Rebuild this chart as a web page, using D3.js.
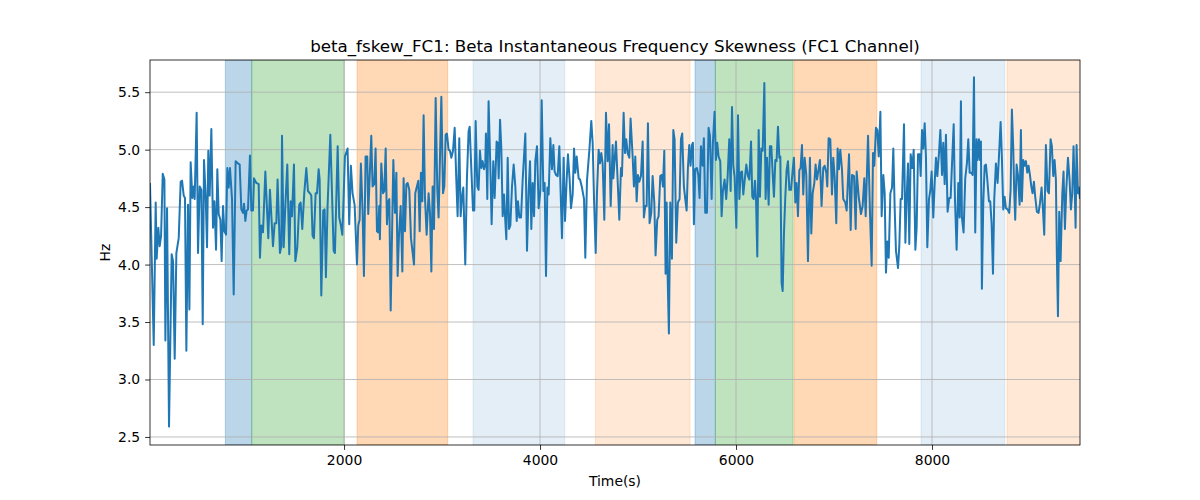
<!DOCTYPE html>
<html>
<head>
<meta charset="utf-8">
<script src="https://cdn.jsdelivr.net/npm/d3@7"></script>
<style>
  html, body { margin: 0; padding: 0; background: #fff; }
  svg { display: block; }
  text { font-family: "DejaVu Sans", sans-serif; fill: #000; }
</style>
</head>
<body>
<svg id="chart" width="1200" height="500"></svg>
<script>
// ---------------- DATA ----------------
const chartTitle = "beta_fskew_FC1: Beta Instantaneous Frequency Skewness (FC1 Channel)";
const xLabel = "Time(s)";
const yLabel = "Hz";
const xTicks = [2000, 4000, 6000, 8000];
const yTicks = [2.5, 3.0, 3.5, 4.0, 4.5, 5.0, 5.5];
const xDomain = [20, 9510];
const yDomain = [2.43, 5.78];

// shaded intervals (time start, time end, kind)
const spanStarts = [789, 1058, 2133, 3316, 4564, 5582, 5789, 6592, 7888, 8765];
const spanEnds   = [1058, 2003, 3058, 4252, 5531, 5789, 6582, 7436, 8742, 9600];
const spanKinds  = ["blue", "green", "orange", "lightblue", "lightorange", "blue", "green", "orange", "lightblue", "lightorange"];

const times = [
20,58,78,88,105,119,133,150,167,177,194,214,241,255,272,289,313,333,347,364,377,391,408,422,435,452,466,476,496,510,527,544,558,571,588,602,615,629,646,663,677,694,707,721,738,751,765,779,796,809,823,836,857,874,894,918,935,952,969,979,993,1006,1020,1040,1054,1071,1081,1105,1129,1142,1156,1173,1197,
1227,1244,1275,1292,1309,1322,1346,1360,1367,1384,1401,1421,1441,1455,1469,1489,1503,1523,1543,1557,1574,1594,1615,1632,1652,1666,1679,1693,1710,1724,1741,1751,1768,1788,1802,1815,1832,1860,1894,1907,1935,1951,1968,1982,1992,2009,2036,2053,2070,2087,2108,2132,2145,2159,2172,2189,2203,2220,2237,2247,2278,2291,2308,2322,2336,2349,2359,2366,2380,
2398,2411,2425,2438,2452,2462,2476,2503,2520,2534,2547,2561,2578,2595,2608,2622,2636,2649,2666,2683,2714,2727,2741,2758,2772,2785,2799,2812,2826,2843,2863,2877,2891,2904,2918,2935,2952,2965,2993,3010,3023,3037,3050,3067,3081,3095,3112,3129,3146,3159,3176,3190,3203,3217,3237,3254,3271,3282,3299,3316,3329,3343,3360,3373,3387,3401,3414,3428,3441,3448,3462,3475,3492,3506,3523,3537,3557,
3568,3578,3592,3605,3619,3633,3643,3656,3670,3684,3697,3714,3731,3748,3762,3775,3789,3806,3823,3850,3867,3884,3898,3911,3925,3939,3952,3969,3986,4003,4017,4034,4047,4061,4075,4088,4105,4122,4136,4149,4163,4180,4197,4211,4224,4241,4255,4272,4285,4302,4316,4333,4347,4360,4374,4394,4408,4428,4449,4462,4479,4503,4523,4537,4551,4568,4581,4598,4612,4625,4639,4656,4673,4690,4704,4721,4741,
4748,4775,4809,4826,4836,4853,4867,4880,4894,4911,4924,4945,4958,4972,4986,4999,5013,5030,5047,5060,5074,5088,5101,5118,5135,5149,5166,5179,5196,5210,5227,5241,5254,5268,5281,5292,5302,5315,5329,5346,5360,5373,5390,5407,5424,5438,5451,5468,5482,5496,5509,5523,5536,5550,5560,5570,5584,5601,5615,5628,5642,5659,5672,5686,5703,5720,5734,5751,5764,5781,5795,5808,5822,5839,5853,5866,5883,5900,5914,5931,
5945,5959,5972,5986,6003,6020,6034,6047,6061,6074,6088,6105,6122,6136,6153,6166,6180,6193,6204,6217,6231,6244,6258,6272,6289,6302,6316,6333,6346,6360,6374,6387,6401,6414,6428,6442,6452,6465,6476,6489,6503,6516,6530,6544,6561,6578,6591,6605,6618,6632,6646,6659,6673,6686,6700,6717,6734,6754,6768,6782,6799,6812,6826,6843,6856,6873,6890,6904,6921,6931,6945,6962,6979,6992,7006,7023,7037,7050,7064,7081,7094,7115,
7129,7153,7170,7184,7204,7221,7231,7252,7275,7292,7309,7323,7347,7367,7384,7398,7411,7428,7442,7456,7473,7486,7503,7517,7530,7544,7558,7575,7592,7605,7619,7632,7653,7666,7680,7694,7714,7728,7741,7755,7768,7782,7799,7813,7830,7843,7857,7874,7884,7898,7911,7925,7938,7952,7969,7983,7996,8013,8027,8040,8054,8071,8085,8102,8115,8129,8142,8159,8176,8190,8207,8221,8234,8251,8268,8282,8295,
8305,8322,8339,8356,8370,8384,8401,8414,8428,8441,8455,8465,8479,8489,8499,8509,8523,8537,8550,8564,8581,8594,8608,8622,8635,8652,8669,8683,8700,8713,8727,8741,8754,8771,8788,8802,8815,8829,8839,8849,8863,8877,8894,8907,8917,8931,8945,8958,8972,8985,8999,9013,9026,9040,9053,9070,9087,9101,9118,9132,9145,9162,9179,9193,9210,9223,9237,9251,9264,9274,9285,9298,9312,9329,9342,9356,9370,9387,9404,9417,9431,9444,9458,9465,9475,9489,9499,9509
];

const values = [
4.70,3.30,4.54,4.05,4.32,4.16,4.25,4.79,4.74,3.34,4.49,2.59,4.09,4.03,3.18,4.10,4.23,4.72,4.73,4.60,4.58,3.25,4.52,3.61,4.89,4.58,4.68,4.57,5.32,4.10,4.68,4.65,3.48,4.91,4.60,4.15,4.99,4.60,5.18,4.32,4.55,4.13,4.83,4.44,4.39,4.03,4.51,4.29,4.26,4.84,4.67,4.84,4.57,3.74,4.90,4.88,4.87,4.48,4.45,4.53,4.38,4.47,4.48,4.95,4.47,4.47,4.75,4.71,4.70,4.06,4.34,4.28,4.81,
4.23,4.65,4.16,4.36,4.36,4.74,4.10,4.16,5.12,4.15,4.51,4.87,4.09,4.55,4.42,4.87,4.03,4.15,4.52,4.54,4.31,4.62,4.84,4.64,4.62,4.60,4.25,4.23,4.62,4.62,4.83,4.74,3.73,4.47,4.48,3.89,4.51,5.13,4.12,4.10,5.03,4.41,4.34,4.26,4.48,4.94,5.01,4.35,4.86,4.62,4.52,4.00,4.34,4.39,4.88,4.47,3.90,4.94,4.94,4.44,5.12,4.68,4.70,5.01,4.29,4.28,4.51,4.22,4.88,
4.62,4.64,5.01,4.35,4.55,4.57,3.60,4.91,4.45,4.80,3.90,4.26,4.51,3.94,4.75,4.29,4.70,4.71,4.65,4.23,4.00,4.62,4.67,4.73,4.29,4.80,4.55,5.30,4.58,4.26,4.62,4.45,3.94,4.68,4.31,5.45,4.64,4.41,5.46,4.62,4.68,5.13,5.14,5.00,4.99,4.93,4.99,5.19,4.73,4.42,5.10,4.42,4.58,4.67,4.00,4.75,5.16,5.20,4.83,4.47,4.47,5.25,4.68,4.65,4.99,4.84,4.90,4.83,4.87,5.14,4.57,5.42,4.88,4.35,4.90,4.58,5.07,
5.06,4.75,5.26,5.01,4.42,4.61,4.42,4.22,4.93,4.31,4.34,4.68,4.87,4.68,4.38,4.55,4.41,4.41,4.74,5.14,4.12,4.65,4.90,4.31,4.71,4.42,4.90,5.03,4.49,4.64,5.43,4.64,4.71,3.90,4.67,4.61,5.10,4.83,5.04,4.81,4.78,4.77,5.03,4.61,4.23,4.93,4.38,4.74,4.96,4.74,4.49,4.61,5.01,4.80,4.94,4.75,4.74,4.67,4.57,4.06,4.73,4.99,5.25,5.06,4.57,4.10,4.62,5.00,4.88,4.97,4.88,4.39,5.32,4.90,5.22,4.51,5.04,
4.75,5.07,4.39,4.84,4.77,5.32,4.97,5.09,4.97,4.93,5.27,4.94,4.68,4.94,4.55,4.78,4.72,4.77,5.07,4.41,4.51,4.51,5.23,4.36,4.45,4.77,4.54,4.08,4.39,4.42,4.77,4.78,4.68,4.99,3.92,4.54,3.90,3.40,4.54,4.05,5.17,5.09,4.19,4.54,4.57,5.09,5.14,4.68,4.57,4.47,4.84,5.04,4.86,5.04,5.06,4.35,4.83,4.84,4.78,4.58,5.03,4.86,5.10,4.45,4.45,5.19,5.12,4.57,5.06,5.33,4.91,5.06,4.94,4.90,4.42,4.64,4.74,4.57,4.76,5.09,
4.64,5.37,4.86,4.76,4.32,5.30,4.57,4.80,4.81,4.61,4.73,4.87,4.77,4.74,5.07,4.59,4.57,4.73,4.57,4.07,5.17,4.59,5.01,4.99,5.58,4.57,4.93,4.52,5.03,5.03,4.79,4.59,4.91,4.90,5.20,4.93,4.94,3.84,3.77,4.27,4.59,4.82,4.90,4.65,4.65,4.82,4.93,4.54,4.71,4.42,4.82,4.84,5.04,4.61,4.93,4.78,4.03,4.93,4.27,4.62,4.71,4.87,4.74,4.83,4.91,4.51,4.84,4.86,4.80,4.68,5.10,5.09,4.61,4.93,4.77,4.36,5.01,4.83,5.00,4.83,4.57,4.54,
4.47,4.96,4.30,4.78,4.77,4.31,4.81,4.59,4.44,4.51,4.75,4.42,5.12,4.45,3.99,4.97,4.86,5.19,5.17,4.94,5.33,4.42,4.78,4.62,3.93,4.20,4.06,4.62,4.67,5.01,4.49,4.12,3.97,4.16,4.57,4.57,5.22,4.19,4.58,4.88,4.18,4.96,4.84,5.00,4.13,4.32,4.96,4.96,4.77,5.17,5.01,5.23,4.94,4.15,4.57,4.65,4.81,4.41,4.71,4.93,4.77,4.97,5.17,4.78,5.06,4.70,5.13,4.46,4.58,4.58,4.94,5.22,4.57,4.13,4.71,4.41,5.42,
4.41,4.28,4.75,4.88,5.09,4.80,4.80,4.78,5.63,4.28,5.09,4.91,5.09,4.91,5.07,3.79,4.54,4.86,4.87,4.74,4.55,4.55,4.36,3.92,4.57,4.88,4.71,4.94,5.24,4.93,4.48,4.59,4.49,4.48,4.45,4.65,5.35,5.01,4.62,4.39,4.87,4.78,4.52,5.17,4.55,4.91,4.86,4.90,4.80,4.86,4.78,4.68,4.62,4.72,4.59,4.46,4.45,4.53,4.67,4.48,4.26,5.04,4.64,4.62,5.09,5.03,4.77,4.91,4.74,4.07,3.55,4.46,4.03,4.61,4.81,4.31,4.65,4.93,4.73,4.48,4.62,5.03,4.59,4.32,5.04,4.62,4.67,4.58
];

// ---------------- STYLE ----------------
const spanStyle = {
  blue:        { color: "#1f77b4", opacity: 0.3 },
  green:       { color: "#2ca02c", opacity: 0.3 },
  orange:      { color: "#ff7f0e", opacity: 0.3 },
  lightblue:   { color: "#1f77b4", opacity: 0.12 },
  lightorange: { color: "#ff7f0e", opacity: 0.17 }
};

const W = 1200, H = 500;
const margin = { left: 150, right: 120, top: 60, bottom: 55 };
const iw = W - margin.left - margin.right;
const ih = H - margin.top - margin.bottom;

const svg = d3.select("#chart");
const x = d3.scaleLinear().domain(xDomain).range([0, iw]);
const y = d3.scaleLinear().domain(yDomain).range([ih, 0]);

svg.append("defs").append("clipPath").attr("id", "clip")
  .append("rect").attr("width", iw).attr("height", ih);

const g = svg.append("g").attr("transform", `translate(${margin.left},${margin.top})`);
const plot = g.append("g").attr("clip-path", "url(#clip)");

// spans
const spans = spanStarts.map((s, i) => ({ s, e: spanEnds[i], k: spanKinds[i] }));
plot.selectAll("rect.span").data(spans).enter().append("rect")
  .attr("class", "span")
  .attr("x", d => x(d.s))
  .attr("width", d => x(d.e) - x(d.s))
  .attr("y", 0).attr("height", ih)
  .attr("fill", d => spanStyle[d.k].color)
  .attr("fill-opacity", d => spanStyle[d.k].opacity)
  .attr("stroke", d => spanStyle[d.k].color)
  .attr("stroke-opacity", d => spanStyle[d.k].opacity)
  .attr("stroke-width", 1);

// grid
plot.selectAll("line.gx").data(xTicks).enter().append("line")
  .attr("x1", d => x(d)).attr("x2", d => x(d)).attr("y1", 0).attr("y2", ih)
  .attr("stroke", "#b0b0b0").attr("stroke-width", 0.8);
plot.selectAll("line.gy").data(yTicks).enter().append("line")
  .attr("y1", d => y(d)).attr("y2", d => y(d)).attr("x1", 0).attr("x2", iw)
  .attr("stroke", "#b0b0b0").attr("stroke-width", 0.8);

// line
const pts = times.map((t, i) => [t, values[i]]);
plot.append("path").datum(pts)
  .attr("fill", "none")
  .attr("stroke", "#1f77b4")
  .attr("stroke-width", 2)
  .attr("stroke-linejoin", "round")
  .attr("stroke-linecap", "square")
  .attr("d", d3.line().x(d => x(d[0])).y(d => y(d[1])));

// axes
const xAxis = d3.axisBottom(x).tickValues(xTicks).tickFormat(d3.format("d")).tickSizeOuter(0).tickSize(4.9).tickPadding(4.9);
const yAxis = d3.axisLeft(y).tickValues(yTicks).tickFormat(d3.format(".1f")).tickSizeOuter(0).tickSize(4.9).tickPadding(4.9);

const gx = g.append("g").attr("transform", `translate(0,${ih})`).call(xAxis);
const gy = g.append("g").call(yAxis);
[gx, gy].forEach(a => {
  a.select(".domain").remove();
  a.selectAll(".tick line").attr("stroke", "#000").attr("stroke-width", 0.8);
  a.selectAll(".tick text").attr("font-size", "13.9px").attr("font-family", "DejaVu Sans").attr("fill", "#000");
});

// frame
g.append("rect").attr("width", iw).attr("height", ih)
  .attr("fill", "none").attr("stroke", "#000").attr("stroke-width", 0.8);

// labels
svg.append("text").attr("x", margin.left + iw / 2).attr("y", 52)
  .attr("text-anchor", "middle").attr("font-size", "16.7px").text(chartTitle);
svg.append("text").attr("x", margin.left + iw / 2).attr("y", 486)
  .attr("text-anchor", "middle").attr("font-size", "13.9px").text(xLabel);
svg.append("text").attr("transform", `translate(110,${margin.top + ih / 2}) rotate(-90)`)
  .attr("text-anchor", "middle").attr("font-size", "13.9px").text(yLabel);
</script>
</body>
</html>
